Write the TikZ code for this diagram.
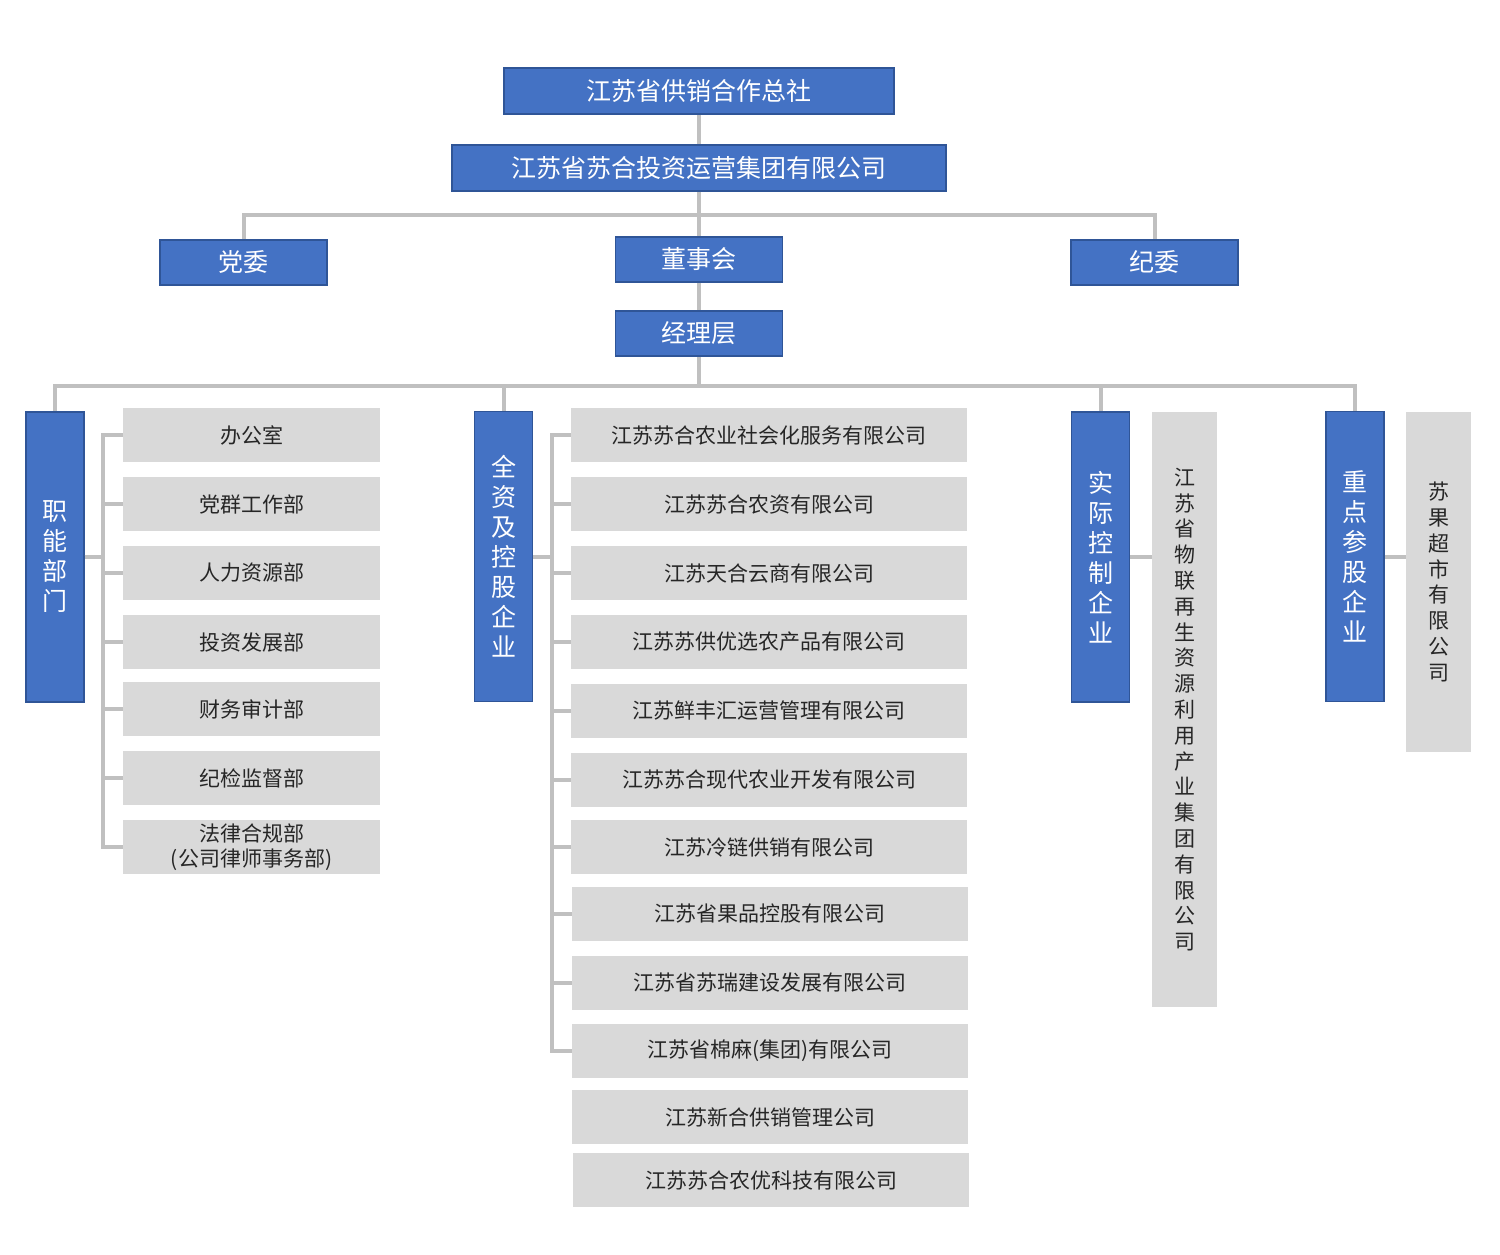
\documentclass[tikz,border=0pt]{standalone}
\usepackage{fontspec}
\setmainfont{Noto Sans CJK SC}
\usepackage{tikz}
\usetikzlibrary{positioning, calc}
\definecolor{orgblue}{HTML}{4472C4}
\definecolor{orgedge}{HTML}{2F5597}
\definecolor{orggray}{HTML}{D9D9D9}
\definecolor{orglink}{HTML}{C0C0C0}

\begin{document}
\begin{tikzpicture}[x=1pt, y=-1pt,
        lead/.style={rectangle, draw=orgedge, line width=1.6pt, fill=orgblue, text=white, inner sep=0pt, minimum height=46pt, font={\fontsize{25}{30}\selectfont}},
        leadcol/.style={lead, minimum width=58pt, minimum height=290pt, align=center},
        unit/.style={rectangle, fill=orggray, text=black!85, inner sep=0pt, minimum height=54pt, align=center, font={\fontsize{21}{25}\selectfont}},
        unitcol/.style={unit, minimum width=65pt, font={\fontsize{21}{25.8}\selectfont}},
        link/.style={draw=orglink, line width=4pt}
    ]
        \useasboundingbox (0,0) rectangle (1500,1254);
        % Head office
        \node (hq) [lead, minimum width=390pt] at (699, 91) {江苏省供销合作总社};
        \node (group) [lead, minimum width=494pt] at (699, 168) {江苏省苏合投资运营集团有限公司};
        \node (party) [lead, minimum width=167pt, minimum height=45pt] at (243.5, 262.5) {党委};
        \node (board) [lead, minimum width=167pt, minimum height=45pt] at (699, 259.5) {董事会};
        \node (disc) [lead, minimum width=167pt, minimum height=45pt] at (1154.5, 262.5) {纪委};
        \node (mgmt) [lead, minimum width=167pt, minimum height=45pt] at (699, 333.5) {经理层};
        % Groups
        \node (func) [leadcol] at (55, 557) {职\\能\\部\\门};
        \node (own) [leadcol] at (503.5, 556.5) {全\\资\\及\\控\\股\\企\\业};
        \node (ctrl) [leadcol] at (1100.5, 557) {实\\际\\控\\制\\企\\业};
        \node (stake) [leadcol] at (1355, 556.5) {重\\点\\参\\股\\企\\业};
        % Departments
        \node (f1) [unit, minimum width=257pt] at (251.5, 435) {办公室};
        \node (f2) [unit, minimum width=257pt] at (251.5, 504) {党群工作部};
        \node (f3) [unit, minimum width=257pt] at (251.5, 573) {人力资源部};
        \node (f4) [unit, minimum width=257pt] at (251.5, 642) {投资发展部};
        \node (f5) [unit, minimum width=257pt] at (251.5, 709) {财务审计部};
        \node (f6) [unit, minimum width=257pt] at (251.5, 778) {纪检监督部};
        \node (f7) [unit, minimum width=257pt] at (251.5, 847) {法律合规部\\(公司律师事务部)};
        % Companies
        \node (c1) [unit, minimum width=396pt] at (769, 435) {江苏苏合农业社会化服务有限公司};
        \node (c2) [unit, minimum width=396pt] at (769, 504) {江苏苏合农资有限公司};
        \node (c3) [unit, minimum width=396pt] at (769, 573) {江苏天合云商有限公司};
        \node (c4) [unit, minimum width=396pt] at (769, 642) {江苏苏供优选农产品有限公司};
        \node (c5) [unit, minimum width=396pt] at (769, 711) {江苏鲜丰汇运营管理有限公司};
        \node (c6) [unit, minimum width=396pt] at (769, 780) {江苏苏合现代农业开发有限公司};
        \node (c7) [unit, minimum width=396pt] at (769, 847) {江苏冷链供销有限公司};
        \node (c8) [unit, minimum width=396pt] at (770, 914) {江苏省果品控股有限公司};
        \node (c9) [unit, minimum width=396pt] at (770, 982.5) {江苏省苏瑞建设发展有限公司};
        \node (c10) [unit, minimum width=396pt] at (770, 1051) {江苏省棉麻(集团)有限公司};
        \node (c11) [unit, minimum width=396pt] at (770, 1117) {江苏新合供销管理公司};
        \node (c12) [unit, minimum width=396pt] at (771, 1180) {江苏苏合农优科技有限公司};
        \node (ctrlco) [unitcol, minimum height=595pt] at (1184.5, 709.5) {江\\苏\\省\\物\\联\\再\\生\\资\\源\\利\\用\\产\\业\\集\\团\\有\\限\\公\\司};
        \node (stakeco) [unitcol, minimum height=340pt] at (1438.5, 582) {苏\\果\\超\\市\\有\\限\\公\\司};
        % Top lines
        \draw [link] (hq) -- (group);
        \draw [link] (group.south) -- ++(0,23) coordinate (tbus);
        \draw [link] (tbus) -- (board);
        \draw [link] (tbus) -| (party.north);
        \draw [link] (tbus) -| (disc.north);
        \draw [link] (board) -- (mgmt);
        % Group lines
        \draw [link] (mgmt.south) -- ++(0,29) coordinate (bus);
        \foreach \n in {func, own, ctrl, stake}
            \draw [link] (bus) -| (\n.north);
        \foreach \n in {f1, f2, f3, f4, f5, f6, f7}
            \draw [link] (func.east) -- ++(18,0) |- (\n.west);
        \foreach \n in {c1, c2, c3, c4, c5, c6, c7, c8, c9, c10}
            \draw [link] (own.east) -- ++(19,0) |- (\n.west);
        \draw [link] (ctrl.east) -- (ctrl.east -| ctrlco.west);
        \draw [link] (stake.east) -- (stake.east -| stakeco.west);
    \end{tikzpicture}
\end{document}
